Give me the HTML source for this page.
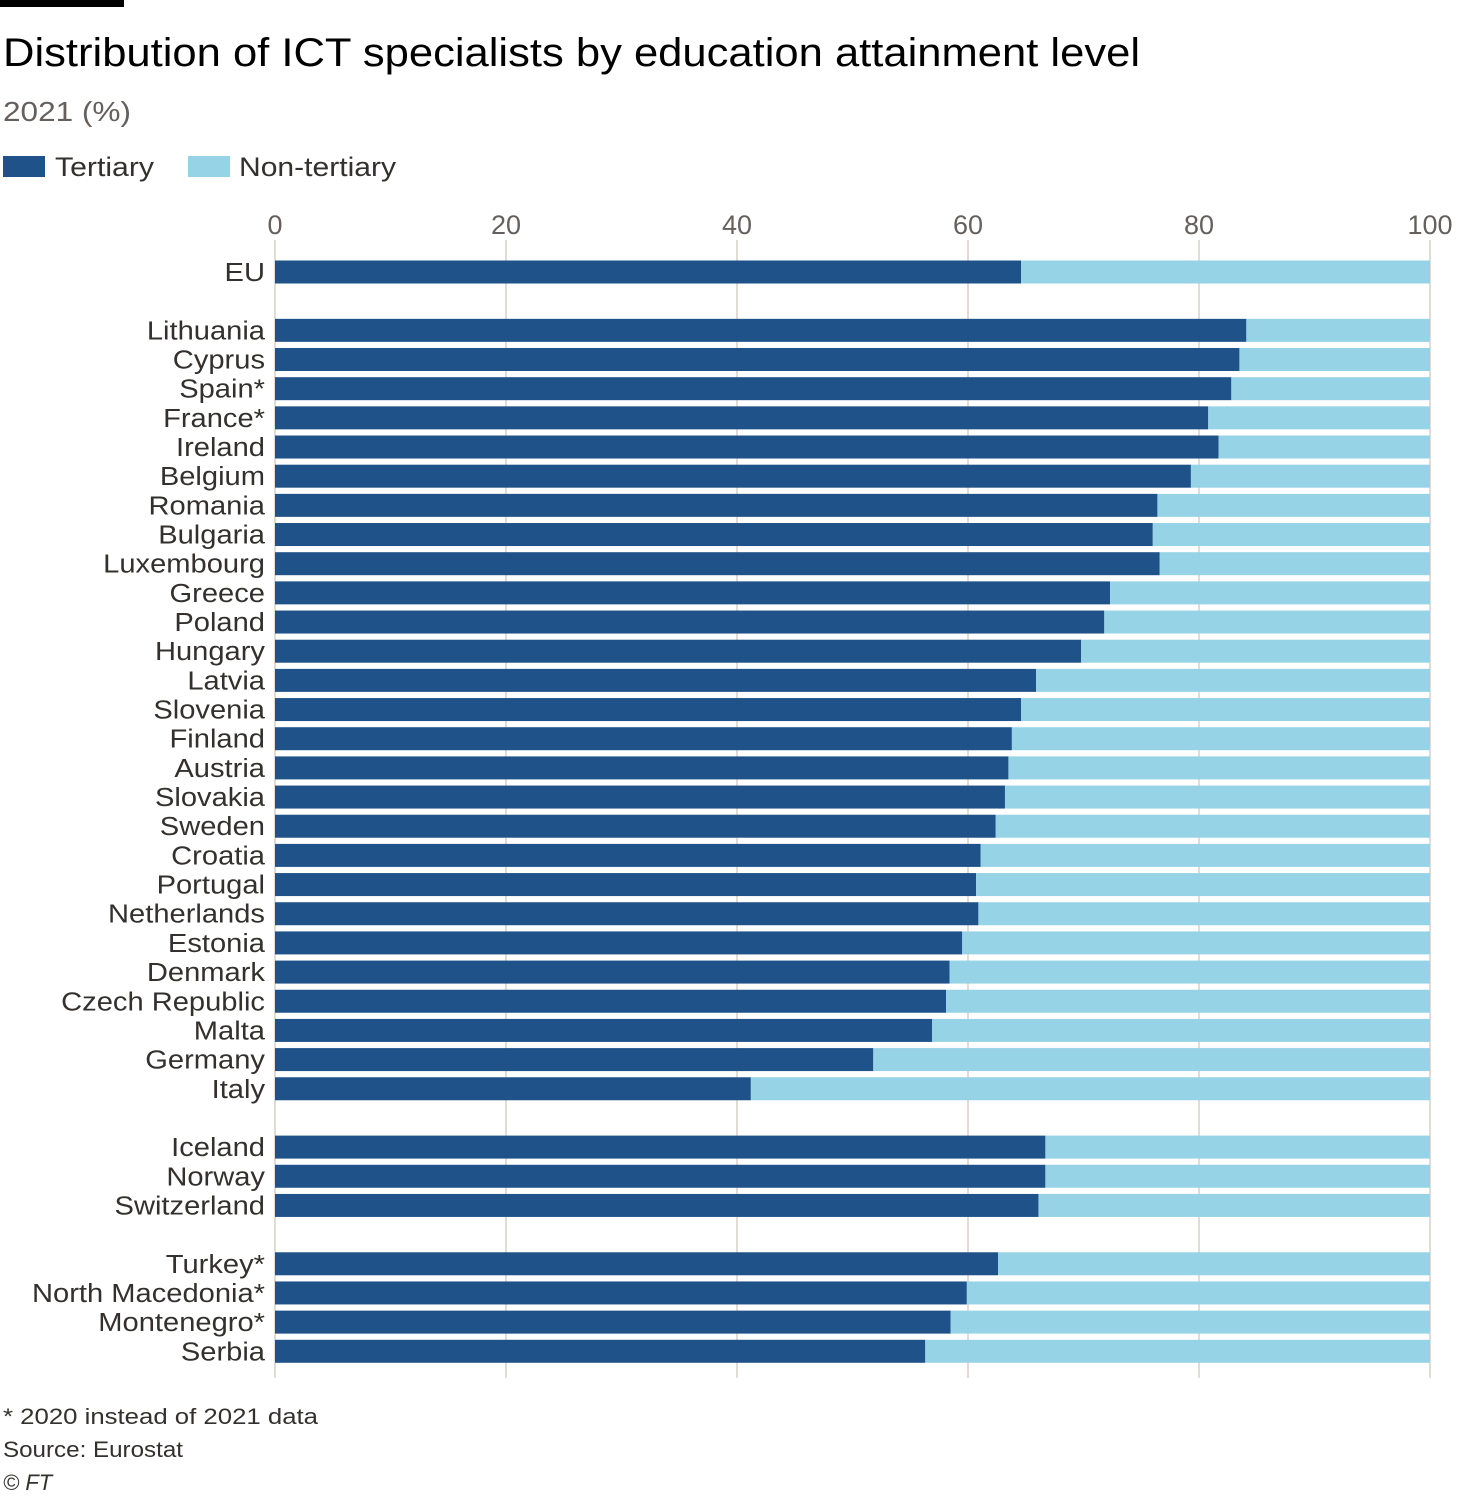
<!DOCTYPE html>
<html><head><meta charset="utf-8">
<style>
body{margin:0;background:#fff;width:1459px;height:1497px;overflow:hidden;font-family:"Liberation Sans",sans-serif;}
svg{display:block}
text{font-family:"Liberation Sans",sans-serif}
</style></head>
<body>
<svg id="chart" width="1459" height="1497">
<rect x="0" y="0" width="124" height="7" fill="#000"/>
<text x="3" y="66" font-size="40" fill="#000" textLength="1137" lengthAdjust="spacingAndGlyphs">Distribution of ICT specialists by education attainment level</text>
<text x="3" y="121" font-size="28" fill="#66605c" textLength="128" lengthAdjust="spacingAndGlyphs">2021 (%)</text>
<g>
<rect x="3" y="156" width="42" height="21" fill="#1f5289"/>
<text x="55" y="176" font-size="27" fill="#33302e" textLength="99" lengthAdjust="spacingAndGlyphs">Tertiary</text>
<rect x="188" y="156" width="42" height="21" fill="#96d3e6"/>
<text x="239" y="176" font-size="27" fill="#33302e" textLength="157" lengthAdjust="spacingAndGlyphs">Non-tertiary</text>
</g>
<g id="grid"></g>
<g id="bars"></g>
<g id="labels"></g>
<text x="3" y="1424" font-size="22" fill="#33302e" textLength="315" lengthAdjust="spacingAndGlyphs">* 2020 instead of 2021 data</text>
<text x="3" y="1457" font-size="22" fill="#33302e" textLength="180" lengthAdjust="spacingAndGlyphs">Source: Eurostat</text>
<text x="3" y="1490" font-size="22" fill="#33302e" font-style="italic">© FT</text>
</svg>
<script>
const countries=["EU","Lithuania","Cyprus","Spain*","France*","Ireland","Belgium","Romania","Bulgaria","Luxembourg","Greece","Poland","Hungary","Latvia","Slovenia","Finland","Austria","Slovakia","Sweden","Croatia","Portugal","Netherlands","Estonia","Denmark","Czech Republic","Malta","Germany","Italy","Iceland","Norway","Switzerland","Turkey*","North Macedonia*","Montenegro*","Serbia"];
const tertiary=[64.6,84.1,83.5,82.8,80.8,81.7,79.3,76.4,76.0,76.6,72.3,71.8,69.8,65.9,64.6,63.8,63.5,63.2,62.4,61.1,60.7,60.9,59.5,58.4,58.1,56.9,51.8,41.2,66.7,66.7,66.1,62.6,59.9,58.5,56.3];
const groups=[0,1,1,1,1,1,1,1,1,1,1,1,1,1,1,1,1,1,1,1,1,1,1,1,1,1,1,1,2,2,2,3,3,3,3];
const ticks=[0,20,40,60,80,100];
const NS="http://www.w3.org/2000/svg";
const x=v=>275+v*11.55;
const y=i=>272+(i+groups[i])*29.17;
function mk(t,a,p){const e=document.createElementNS(NS,t);for(const k in a)e.setAttribute(k,a[k]);p.appendChild(e);return e;}
const g=document.getElementById('grid'),b=document.getElementById('bars'),l=document.getElementById('labels');
ticks.forEach(t=>{
 const ln=mk('line',{x1:x(t),x2:x(t),y1:240,y2:1378,stroke:'#e3dcd4','stroke-width':2},g);
 
 
 const tx=mk('text',{x:x(t),y:234,'font-size':27,fill:'#66605c','text-anchor':'middle'},g);
 tx.textContent=t;
 
 
});
countries.forEach((c,i)=>{
 const yc=y(i),h=23;
 const r1=mk('rect',{x:x(0),y:yc-h/2,width:x(tertiary[i])-x(0),height:h,fill:'#1f5289'},b);
 
 
 const r2=mk('rect',{x:x(tertiary[i]),y:yc-h/2,width:x(100)-x(tertiary[i]),height:h,fill:'#96d3e6'},b);
 
 
 const t=mk('text',{x:0,y:0,'font-size':26,fill:'#33302e','text-anchor':'end',transform:'translate(265,'+(yc+9)+') scale(1.12,1)'},l);
 t.textContent=c;
 
 
});
</script>
</body></html>
